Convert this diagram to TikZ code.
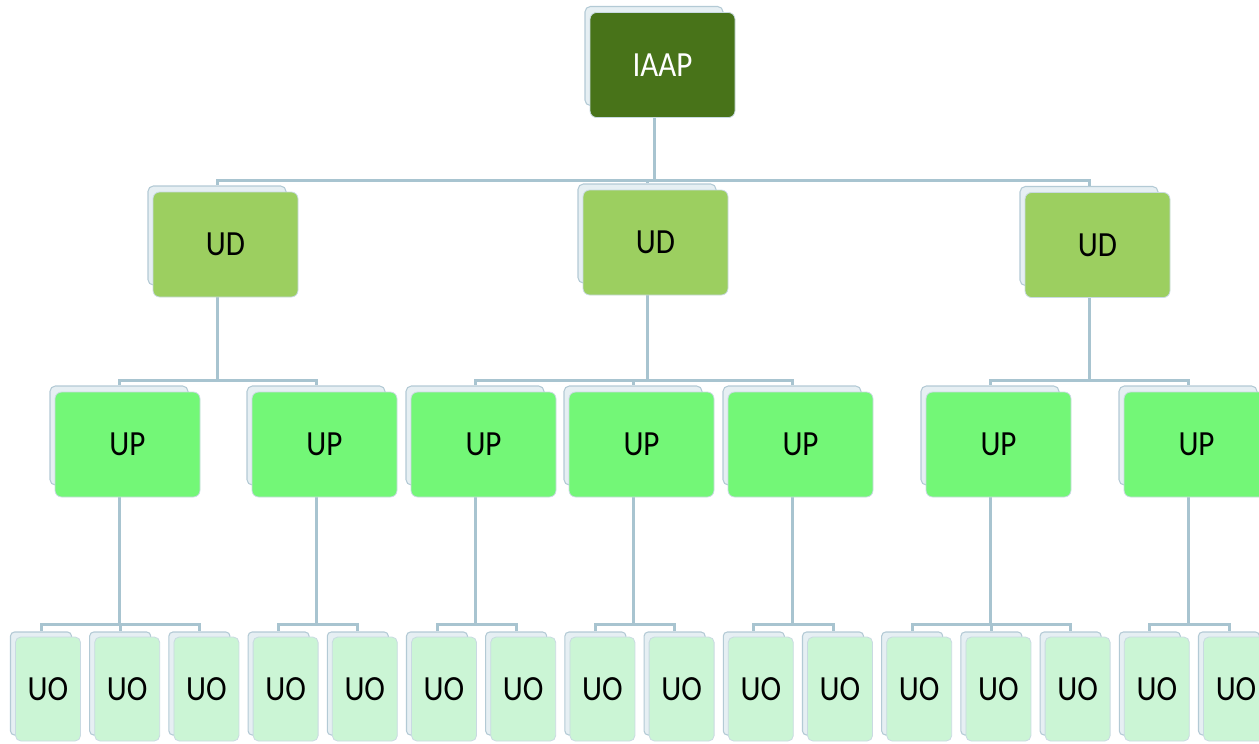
\documentclass[tikz,border=0pt]{standalone}
\usepackage{fontspec}
\setmainfont[FakeStretch=0.88]{Carlito}
\definecolor{conncol}{HTML}{A8C4D0}
\definecolor{backfill}{HTML}{E6EFF3}
\definecolor{backline}{HTML}{B3CAD5}
\definecolor{cardline}{HTML}{C9DAE2}
\definecolor{topfill}{HTML}{487319}
\definecolor{udfill}{HTML}{9CCF60}
\definecolor{upfill}{HTML}{73F777}
\definecolor{uofill}{HTML}{CBF5D5}
\tikzset{
  back/.style={draw=backline, fill=backfill, rounded corners=4pt, inner sep=0pt, line width=0.8pt},
  card/.style={draw=cardline, rounded corners=5pt, inner sep=0pt, line width=0.6pt, font=\fontsize{26.5}{28}\selectfont},
  bigcard/.style={card, minimum width=108.75pt, minimum height=78.75pt},
  bigback/.style={back, minimum width=103.5pt, minimum height=74.25pt},
  smallcard/.style={card, rounded corners=4pt, minimum width=48.75pt, minimum height=78pt},
  smallback/.style={back, rounded corners=3pt, minimum width=45.75pt, minimum height=77.25pt},
  conn/.style={draw=conncol, line width=2.25pt},
}
\begin{document}
\begin{tikzpicture}[x=0.75pt,y=-0.75pt]
\useasboundingbox (0,0) rectangle (1259,743);
\clip (0,0) rectangle (1259,743);
% back cards
\node[bigback] (bIAAP) at (654,56) {};
\node[bigback] (bUD1) at (217,235.5) {};
\node[bigback] (bUD2) at (647,233.5) {};
\node[bigback] (bUD3) at (1089,236) {};
\foreach \i/\x in {1/127.5,2/324.5,3/483.5,4/641.5,5/800.5,6/998.5,7/1196.5}
  \node[bigback] (bUP\i) at (\x-8.5,435.5) {};
\foreach \k in {0,...,15}
  \node[smallback] (buo\k) at ({48+79.2*\k-7},683.5) {};
% bars
\coordinate (barTop) at (0,180);
\coordinate (barUP) at (0,380);
\coordinate (barUO) at (0,624);
% connectors
\foreach \j in {1,2,3}
  \draw[conn] (bIAAP.south) -- (bIAAP.south |- barTop) -| (bUD\j.north);
\foreach \i/\p in {1/1,2/1,3/2,4/2,5/2,6/3,7/3}
  \draw[conn] (bUD\p.south) -- (bUD\p.south |- barUP) -| (bUP\i.north);
\foreach \k/\p in {0/1,1/1,2/1,3/2,4/2,5/3,6/3,7/4,8/4,9/5,10/5,11/6,12/6,13/6,14/7,15/7}
  \draw[conn] (bUP\p.south) -- (bUP\p.south |- barUO) -| (buo\k.north);
% main cards
\node[bigcard, fill=topfill, text=white] (IAAP) at (662.5,65) {IAAP};
\node[bigcard, fill=udfill] (UD1) at (225.5,244.5) {UD};
\node[bigcard, fill=udfill] (UD2) at (655.5,242.5) {UD};
\node[bigcard, fill=udfill] (UD3) at (1097.5,245) {UD};
\foreach \i/\x in {1/127.5,2/324.5,3/483.5,4/641.5,5/800.5,6/998.5,7/1196.5}
  \node[bigcard, fill=upfill] (UP\i) at (\x,444.5) {UP};
\foreach \k in {0,...,15}
  \node[smallcard, fill=uofill] (uo\k) at ({48+79.2*\k},689) {UO};
\end{tikzpicture}
\end{document}
